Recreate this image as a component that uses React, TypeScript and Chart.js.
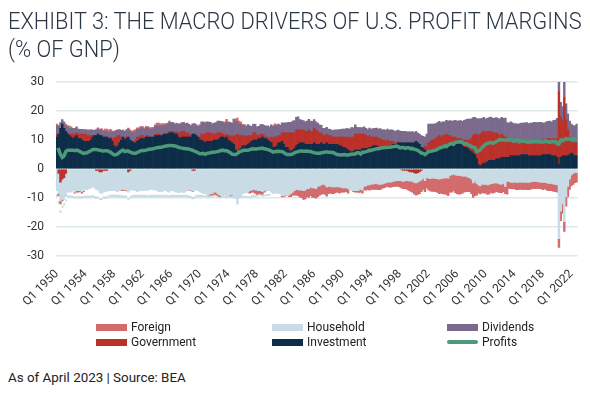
import React, { useEffect, useLayoutEffect, useRef, useState } from 'react';
import { Chart, registerables } from 'chart.js';

Chart.register(...registerables);

// Quarterly categories Q1 1950 .. Q4 2022
const firstYear = 1950;
const lastYear = 2022;
const quarters: string[] = [];
for (let y = firstYear; y <= lastYear; y++) for (let q = 1; q <= 4; q++) quarters.push(`Q${q} ${y}`);

const yTicks = [30, 20, 10, 0, -10, -20, -30];

// % of GNP (one row per year, Q1..Q4)
const investment = [
  11, 12, 14, 15.5, 14, 13, 12, 11.5, 11, 10.5, 11, 11.5, 10.5, 10.5, 10, 9.5,
  9.5, 9.5, 9.5, 10, 11, 11.5, 11.5, 12, 11.5, 11.5, 11, 11, 11, 10.5, 10.5, 9.5,
  8, 7.5, 8, 9, 10, 11, 10, 10.5, 11, 10, 9.5, 9, 9, 9.5, 10, 10.5,
  10.5, 10.5, 11, 11, 11, 11, 11, 11.5, 11.5, 11.5, 11.5, 11.5, 12, 12, 12, 12.5,
  12.5, 12.5, 12, 12, 11, 10.5, 11, 11, 11, 11, 11, 11, 12, 12, 11.5, 11,
  10, 10, 9.5, 9, 9.5, 9.5, 9.5, 9.5, 10, 10, 10, 10.5, 11, 11, 10.5, 11,
  10, 9.5, 9, 8.5, 6.5, 6, 6.5, 7, 8, 8, 8, 8.5, 9, 9.5, 10, 10,
  10, 10.5, 10.5, 11, 10.5, 10.5, 10, 9.5, 9, 7.5, 7.5, 8, 9, 9, 9.5, 8.5,
  7.5, 7.5, 6.5, 6, 6.5, 7, 8, 8.5, 9, 9, 9, 8.5, 8.5, 8.5, 8.5, 8.5,
  9, 8.5, 8.5, 8.5, 9, 8.5, 8.5, 9, 8.5, 8.5, 8.5, 8.5, 8.5, 8.5, 8, 8,
  7.5, 7.5, 7, 6.5, 6, 6, 6, 6.5, 6.5, 6.5, 6.5, 7, 7, 7, 7, 7.5,
  7.5, 8, 8, 8, 7.5, 7.5, 7.5, 7.5, 7.5, 8, 8, 8, 8.5, 8.5, 8.5, 9,
  9, 9, 9, 9, 9, 9, 9, 9, 9, 9.5, 9, 8.5, 7.5, 7, 6.5, 5.5,
  6, 6, 6, 6, 6, 6, 6.5, 6.5, 7, 7, 7.5, 7.5, 8, 8, 8, 8.5,
  8.5, 8.5, 8.5, 8, 7.5, 7.5, 7, 6.5, 6, 5.5, 5, 3.5, 1.5, 1, 1.5, 2,
  2, 2.5, 3, 3, 3, 3, 3.5, 3.5, 3.5, 4, 4, 4, 4, 4, 4.5, 4.5,
  4.5, 4.5, 4.5, 4.5, 5, 5, 5, 5, 4.5, 4.5, 4.5, 4.5, 4.5, 4.5, 4.5, 4.5,
  5, 5, 5, 5, 5, 4.5, 4.5, 4.5, 4, 1.5, 4, 4.5, 4.5, 4.5, 4.5, 5,
  5.5, 5, 4.5, 4.5,
];

const government = [
  1, -1.5, -4.5, -3.5, -3, -1.5, 0.5, 0.5, 1, 1.5, 1, 1, 1.5, 1.5, 2, 2.5,
  2.5, 2, 2, 1.5, 0.5, 0, -0.5, -0.5, -1, -1, -0.5, -0.5, -0.5, 0, 0.5, 1,
  2.5, 3.5, 3.5, 2.5, 1, 0, 0.5, 0.5, -1, -0.5, 0, 0.5, 1, 1.5, 1, 1,
  1, 0.5, 0.5, 0.5, 0, 0, 0, 0.3, 0.5, 0.5, 0.3, 0.3, 0, 0, 0.3, 0.5,
  0.3, 0.5, 0.5, 0.8, 1.5, 2, 2, 2, 1.5, 1.5, 1, 0.5, -0.5, -0.5, 0, 0,
  1, 2, 2.5, 3, 3, 3, 3, 2.5, 2, 2, 2.5, 2, 1.5, 1, 1, 1,
  1.5, 2, 2, 3, 5, 6, 5, 4.5, 3.5, 3.5, 3, 3, 2.5, 2, 2.5, 2.5,
  1.5, 1, 1.5, 1, 1, 0.5, 1, 1, 2, 3, 3.5, 3, 2.5, 2.5, 3, 4,
  5, 5, 6, 6.5, 6, 5.5, 5.5, 5, 4.5, 4.5, 4.5, 4.5, 4.5, 5, 4.5, 4.5,
  5, 5, 4.5, 4, 3.5, 3, 3, 3, 3, 3, 2.5, 2.5, 2.5, 2.5, 3, 3,
  3.5, 3.5, 4, 4.5, 4.5, 5, 5, 5.5, 5.5, 5.5, 5.5, 5, 5, 4.5, 4, 4,
  3.5, 3, 3, 3, 3, 3, 2.5, 2.5, 2, 2, 1.5, 1.5, 1, 0.5, 0.5, 0.3,
  0, -0.3, -0.5, -0.5, -0.5, -0.8, -1, -1, -1.3, -1.5, -1.3, -1, -0.5, 0.5, 1.5, 2,
  3, 3.5, 4, 4, 4.5, 5, 5, 4.5, 4.5, 4.5, 4.5, 4, 3.5, 3, 3, 2.5,
  2, 2, 2, 2, 2.5, 2.5, 3, 3.5, 4.5, 6, 7, 8.5, 10, 11, 11, 11,
  10.5, 10.5, 10, 10, 9.5, 9.5, 9, 8.5, 8, 8, 7.5, 7, 5.5, 5, 5, 4.5,
  4.5, 4.5, 4, 4, 4, 4, 4, 4, 4.5, 4.5, 4.5, 5, 4.5, 4.5, 4.5, 4.5,
  5, 5, 5.5, 5.5, 5.5, 5.5, 6, 6, 6.5, 25, 14, 12, 20, 12.5, 9, 6,
  4.5, 4, 4.5, 4.5,
];

const dividends = [
  3, 3, 2, 1.5, 2, 2, 2, 2, 2, 2, 2, 2, 1.8, 1.7, 1.7, 1.6,
  1.6, 1.7, 1.7, 1.8, 1.8, 1.8, 1.9, 1.9, 1.9, 1.9, 1.9, 2, 2, 2.1, 2.2, 2.2,
  2.2, 2.1, 2, 2.1, 2.3, 2.4, 2.5, 2.6, 2.8, 3, 3, 3, 2.8, 2.7, 2.7, 2.7,
  2.6, 2.7, 2.7, 2.8, 2.8, 2.8, 2.9, 2.9, 3, 3, 3, 3.1, 3.1, 3.2, 3.2, 3.2,
  3, 2.9, 2.9, 2.8, 2.8, 2.9, 2.8, 2.9, 3.2, 3.3, 3.4, 3.5, 3.6, 3.7, 3.8, 3.8,
  4, 4, 4, 4, 3.8, 3.7, 3.6, 3.6, 3.8, 4, 4, 4, 3.9, 4, 4.2, 4.3,
  4.5, 4.6, 4.8, 5.5, 5, 4.4, 4, 3.9, 3.6, 3.6, 3.8, 3.8, 3.4, 3.2, 3, 2.9,
  3, 3.2, 3.3, 3.4, 3.6, 3.8, 3.9, 4, 4.2, 4.3, 4.1, 4, 3.8, 3.6, 3.4, 3.3,
  3.4, 3.5, 3.6, 3.6, 4, 4.2, 4.3, 4.5, 3.5, 3.4, 3.2, 3.3, 3.5, 3.6, 3.5, 3.4,
  3, 2.8, 2.8, 2.7, 2.6, 2.5, 2.5, 2.4, 2.3, 2.2, 2.3, 2.4, 2.5, 2.5, 2.6, 2.7,
  2.8, 2.8, 2.9, 2.9, 3.3, 3.1, 3.2, 3.2, 2.4, 2.3, 2.3, 2.3, 2.5, 2.5, 2.6, 2.6,
  2.8, 2.9, 3, 3.1, 3.3, 3.4, 3.5, 3.6, 3.8, 3.8, 3.9, 4, 3.9, 4.1, 4.2, 4.1,
  4.1, 4, 4, 4, 3.8, 3.8, 3.8, 3.9, 3.6, 3.5, 3.4, 3.5, 4, 3.8, 3, 4.5,
  6.5, 6, 5.5, 5.5, 5.2, 5, 4.9, 5, 4.8, 4.8, 4.8, 5, 5.2, 5.5, 5.6, 5.8,
  6, 6.1, 6.2, 6.4, 6.8, 7, 7.2, 7.2, 6.8, 6.2, 5.8, 5.4, 5.8, 5.4, 5, 4.8,
  4.7, 4.6, 4.7, 4.9, 5, 5.1, 5.2, 5.4, 5.8, 5.8, 6, 6.6, 6.5, 6.8, 6.8, 6.9,
  6.6, 6.7, 6.9, 7.2, 6.8, 6.8, 6.9, 7, 6.7, 6.8, 6.8, 6.6, 7, 7, 7.1, 7.1,
  5.8, 5.9, 5.8, 5.9, 6, 6.2, 6.3, 6.4, 7, 6, 5, 5, 6, 5.5, 5.5, 5.5,
  5.5, 6, 6, 6.5,
];

const household = [
  -7.5, -7, -6.5, -7, -7.5, -8, -8, -8, -8, -7.5, -8, -7.5, -7.5, -7.5, -7.8, -7.5,
  -7, -7.2, -6.8, -6.5, -6.3, -6.5, -6.5, -6.8, -7.2, -7.5, -7.5, -7.3, -7.2, -7.5, -7.5, -7.5,
  -7.5, -7.6, -7.8, -7.5, -7.2, -7, -7, -7.3, -7, -6.8, -7.2, -7.3, -7.5, -7.8, -7.6, -7.5,
  -7.5, -7.5, -7.3, -7.4, -7, -7, -7.2, -7.2, -7.5, -7.8, -7.8, -7.8, -7.5, -7.5, -7.8, -8,
  -7.5, -7.5, -7.8, -8, -8.2, -8, -8, -8.2, -7.8, -7.5, -7.2, -7.3, -7, -7, -7.2, -7.5,
  -7.8, -8.2, -8.5, -8.5, -8.8, -9, -8.5, -8.5, -8, -8, -8.5, -9, -9, -9.2, -9, -9.5,
  -9, -9, -8.8, -9.5, -9.5, -11.5, -9.5, -9.2, -8.5, -8.3, -8, -7.8, -7.5, -7.3, -7, -7.2,
  -7.3, -7.5, -7.5, -7.8, -7.5, -7.3, -7.3, -7.5, -8, -8.5, -8.3, -8.3, -8.5, -8.5, -9.2, -9.3,
  -9, -9.2, -9, -8.5, -8, -7.5, -7, -7.2, -7.2, -7.3, -7.5, -7.3, -6.8, -6.8, -6.2, -6.5,
  -6.5, -6.8, -6, -5.8, -5.5, -5.2, -5.5, -6.2, -6, -6, -6.2, -6.2, -6.2, -6, -6.3, -6.3,
  -6.5, -6.5, -6.5, -6.8, -7.2, -7.3, -7.5, -7.5, -7.5, -7.3, -7, -7.3, -6, -5.8, -5.5, -5.5,
  -5.2, -5.2, -5, -5, -5.3, -5.3, -5.2, -5, -4.8, -4.5, -4.5, -4.5, -4.3, -4.2, -4, -4,
  -4, -3.8, -3.8, -3.5, -3.5, -3.3, -3.2, -3.2, -3.3, -3.3, -3.2, -3.2, -3.3, -3.2, -4, -3,
  -3.2, -3.3, -3.2, -3.2, -3.3, -3.3, -3.5, -3.3, -3.2, -3.2, -3, -3.2, -2.2, -2, -1.8, -2,
  -2.2, -2.2, -2.3, -2.5, -2.5, -2.5, -2.8, -3, -3.5, -4.8, -4.2, -5, -5.5, -5.8, -5.2, -5.3,
  -5.3, -5.5, -5.3, -5, -5, -4.8, -4.8, -5, -5.2, -5.2, -5, -6, -4.2, -4.4, -4.5, -4.6,
  -4.5, -4.6, -4.6, -4.5, -4.5, -4.6, -4.5, -4.6, -4.6, -4.5, -4.3, -4.3, -4.3, -4.4, -4.5, -4.5,
  -4.6, -4.6, -4.7, -5, -5, -5, -5.2, -5.3, -5.5, -24, -14.5, -12, -18.2, -9.5, -6, -3.5,
  -2, -1.5, -1.2, -1.2,
];

const foreign = [
  0.5, -0.8, -1, -0.5, 0.3, 0.5, 0.5, 0.8, 0.5, 0, -0.3, -0.5, -0.5, -0.3, -0.5, -0.3,
  0, 0.3, 0.3, 0.3, 0.2, 0, 0.2, 0.3, 0.3, 0.5, 0.5, 0.8, 0.8, 0.8, 0.5, 0.5,
  0.3, 0.2, 0, 0, -0.3, -0.5, -0.3, -0.3, 0.3, 0.5, 0.5, 0.8, 0.8, 0.5, 0.5, 0.5,
  0.5, 0.5, 0.5, 0.3, 0.5, 0.5, 0.5, 0.5, 0.8, 0.8, 0.8, 0.8, 0.5, 0.5, 0.3, 0.3,
  0.2, 0.2, 0.2, 0.2, 0.3, 0.3, 0.2, 0.2, 0, 0, -0.2, -0.2, -0.2, 0, 0, 0,
  0.3, 0.3, 0.3, 0, 0, -0.2, -0.5, -0.5, -0.8, -0.8, -0.6, -0.5, 0, 0.3, 0.5, 0.8,
  0.3, -0.3, -0.3, 0.2, 0.8, 1.2, 1, 0.8, 0.3, 0.2, 0, -0.2, -0.8, -0.8, -1, -1.2,
  -1.5, -1, -1, -1, -0.5, -0.3, 0, 0, 0, 0, 0.5, 0.3, 0.2, 0, -0.3, -0.3,
  -0.3, 0, -0.5, -1, -1, -1.5, -2, -2, -2.5, -2.5, -3, -3, -2.8, -3, -3, -3.3,
  -3.3, -3.3, -3.5, -3.3, -3.3, -3.3, -3.3, -3.2, -2.5, -2.3, -2.3, -2.3, -2, -2, -2, -1.8,
  -1.5, -1.5, -1.3, -1.5, 0, 0.3, -0.3, -0.5, -0.5, -0.8, -1, -1, -1.3, -1.5, -1.5, -1.8,
  -1.8, -1.8, -2, -2, -1.8, -1.8, -1.5, -1.5, -1.5, -1.5, -1.8, -1.8, -1.8, -1.8, -2, -2,
  -2.3, -2.5, -2.5, -2.8, -3, -3.3, -3.5, -3.8, -4, -4.2, -4.3, -4.3, -4, -3.8, -3.8, -3.5,
  -4, -4.3, -4.5, -4.5, -4.5, -4.8, -5, -5, -5.3, -5.5, -5.8, -6, -5.8, -6, -5.8, -6.2,
  -6.3, -6.5, -6.3, -5.8, -5.5, -5.3, -5, -4.8, -5, -5, -5, -4, -2.8, -2.8, -3, -3,
  -3, -3.3, -3.3, -3.1, -3.3, -3.3, -3, -3, -3, -3, -2.8, -2.5, -4.5, -2.3, -2.3, -2.3,
  -2.3, -2.5, -2.5, -2.5, -2.5, -2.5, -2.5, -2.5, -2.5, -2.5, -2.5, -2.5, -2.5, -2.3, -2.3, -2.3,
  -2.5, -2.3, -2.5, -2.5, -2.5, -2.5, -2.5, -2.5, -2.5, -3, -3.3, -3.3, -3.3, -3.3, -3.5, -3.5,
  -3.8, -3.8, -3.5, -3.3,
];

// white gap and pale strip seen under the household area in the early decades
const gap = [
  -1.2, -1.8, -2.2, -1.5, -1.2, -0.8, -1, -0.8, -1, -1.5, -1, -1.3, -1.2, -1.5, -1, -1.3,
  -2, -1.8, -2.2, -2.5, -2.5, -2.6, -2.4, -2, -1.6, -1.3, -1.3, -1.6, -1.6, -1.4, -1.3, -1.2,
  -1.2, -1.2, -1, -1.3, -1.4, -1.4, -1.6, -1.4, -1.8, -2, -1.7, -1.5, -1.3, -1, -1.2, -1.3,
  -1.3, -1.3, -1.5, -1.5, -1.8, -1.8, -1.6, -1.6, -1.3, -1, -1, -1, -1.3, -1.3, -1.1, -0.9,
  -1.3, -1.3, -1, -0.8, -0.6, -0.8, -0.8, -0.6, -1, -1.3, -1.6, -1.5, -1.8, -1.8, -1.6, -1.3,
  -1, -0.6, -0.4, -0.4, -0.2, 0, -0.2, -0.2, 0, 0, 0, 0, -0.2, 0, -0.2, 0,
  0, 0, 0, 0, 0, 0, 0, 0, -0.5, -0.8, -1.2, -1.3, -1, -0.8, -0.8, -0.5,
  0, 0, 0, 0, -0.8, -1, -1.2, -1, -0.5, 0, 0, 0,
];
const band = [
  -0.8, -0.7, -0.8, -0.8, -0.8, -0.7, -0.8, -0.8, -0.7, -0.8, -0.8, -0.7, -0.8, -0.8, -0.8, -0.7,
  -0.8, -0.8, -0.7, -0.8, -0.8, -0.8, -0.8, -0.7, -0.7, -0.8, -0.8, -0.8, -0.8, -0.7, -0.8, -0.8,
  -0.8, -0.8, -0.7, -0.8, -0.8, -0.8, -0.8, -0.8, -0.7, -0.8, -0.8, -0.8, -0.8, -0.7, -0.8, -0.8,
  -0.8, -0.8, -0.8, -0.7, -0.8, -0.8, -0.8, -0.8, -0.7, -0.8, -0.8, -0.8, -0.8, -0.8, -0.7, -0.8,
  -0.8, -0.8, -0.8, -0.7, -0.8, -0.8, -0.8, -0.8, -0.7, -0.8, -0.8, -0.8, -0.8, -0.7, -0.8, -0.8,
  -0.8, -0.7, -0.7, -0.7, -0.7, -0.6, -0.6, -0.6, -0.6, -0.6, -0.6, -0.6, -0.6, -0.6, -0.6, -0.6,
  -0.6, -0.6, -0.6, -0.6, -0.6, -0.6, -0.6, -0.6, -0.7, -0.7, -0.7, -0.7, -0.7, -0.7, -0.7, -0.7,
  -0.6, -0.6, -0.6, -0.6, -0.6, -0.6, -0.6, -0.6,
];

const profits = [
  6.5, 6.7, 5, 4, 4.5, 6, 6.5, 6.5, 6.5, 6.5, 6.3, 6.5, 6.3, 6, 5.6, 5.4,
  5.5, 5.6, 6, 6.3, 6.7, 6.7, 6.7, 6.6, 6.5, 6.3, 6.2, 6.3, 6.3, 6.1, 5.8, 5.3,
  4.9, 4.9, 5.2, 5.7, 6.2, 6.5, 6, 6.2, 6.2, 5.8, 5.6, 5.4, 5.4, 5.7, 6, 6.3,
  6.4, 6.4, 6.5, 6.7, 6.8, 6.9, 7, 7.2, 7.3, 7.4, 7.5, 7.6, 7.8, 7.9, 8, 8.1,
  8.1, 8, 7.9, 7.8, 7.5, 7.3, 7.2, 7.1, 7, 7, 6.8, 6.7, 6.4, 6.2, 5.9, 5.6,
  5.3, 5.3, 5.4, 5.1, 5.4, 5.5, 5.6, 5.8, 5.8, 5.9, 6, 6.2, 6.4, 6.5, 6.3, 6.3,
  6, 5.6, 5.1, 5, 5, 5.3, 5.9, 6.1, 6.4, 6.5, 6.5, 6.5, 6.7, 6.9, 7, 6.9,
  6.9, 7.1, 7.1, 7.2, 7, 6.9, 6.7, 6.5, 6.2, 5.8, 6, 6, 6.1, 6, 6, 5.7,
  5.2, 5, 5, 5, 5.2, 5.6, 5.8, 6, 6.2, 6.2, 6.1, 6.1, 6.2, 6, 6, 5.8,
  5.6, 5.5, 5.4, 5.4, 5.6, 5.7, 5.9, 5.9, 5.8, 5.8, 5.7, 5.6, 5.2, 5, 4.9, 4.8,
  4.9, 5, 4.8, 4.8, 5, 5.1, 5.2, 5.2, 5.6, 5.6, 5.2, 5.8, 5.8, 6, 6.1, 6.5,
  6.4, 6.7, 6.8, 7, 7, 7.1, 7.3, 7.3, 7.4, 7.5, 7.5, 7.6, 7.7, 7.8, 7.9, 7.7,
  7.3, 7.4, 7.4, 7.1, 7.3, 7.3, 7, 7.1, 6.8, 6.7, 6.4, 6, 5.5, 5.4, 5, 5.5,
  6, 6.1, 6.2, 6.4, 6.5, 6.8, 7.2, 7.5, 7.6, 8, 7.7, 8.3, 8.6, 8.8, 8.5, 9.2,
  9.3, 9.4, 9.4, 9.2, 8.6, 8.8, 8.4, 8.2, 7.8, 7.5, 7.4, 6, 6.3, 6.6, 7.4, 8,
  8.6, 8.8, 9, 9.2, 8.8, 9.2, 9.5, 9.8, 10.2, 10, 10, 10, 9.9, 10.1, 10, 9.9,
  9.5, 9.9, 10.1, 9.8, 9.6, 9.7, 9.6, 9.3, 9.2, 9.3, 9.4, 9.4, 9.4, 9.4, 9.4, 9.2,
  9.3, 9.5, 9.6, 9.4, 9.2, 9.5, 9.4, 9.5, 8.7, 8.6, 10, 9.8, 10, 10.5, 10.2, 10.4,
  10, 10.3, 10.2, 10,
];

const COLORS = {
  foreign: '#d36b6d',
  government: '#bb3129',
  household: '#c9dce5',
  investment: '#0e2d48',
  dividends: '#7b6a8c',
  profits: '#4b9a79',
};

const legendItems = [
  { label: 'Foreign', color: COLORS.foreign, x: 96, y: 327, line: false },
  { label: 'Government', color: COLORS.government, x: 96, y: 342, line: false },
  { label: 'Household', color: COLORS.household, x: 272, y: 327, line: false },
  { label: 'Investment', color: COLORS.investment, x: 272, y: 342, line: false },
  { label: 'Dividends', color: COLORS.dividends, x: 447, y: 327, line: false },
  { label: 'Profits', color: COLORS.profits, x: 447, y: 342, line: true },
];

export default function App() {
  const canvasRef = useRef<HTMLCanvasElement>(null);
  const titleRef = useRef<HTMLSpanElement>(null);
  const footRef = useRef<HTMLSpanElement>(null);
  const [titleScale, setTitleScale] = useState(1);
  const [footScale, setFootScale] = useState(1);

  useLayoutEffect(() => {
    if (titleRef.current) setTitleScale(574 / titleRef.current.scrollWidth);
    if (footRef.current) setFootScale(178 / footRef.current.scrollWidth);
  }, []);

  useEffect(() => {
    if (!canvasRef.current) return;
    const pad = (a: number[]) => quarters.map((_, i) => (i < a.length ? a[i] : 0));
    const nz = (a: number[]) => pad(a).map((v) => (v === 0 ? null : v));
    const pos = (a: number[]) => pad(a).map((v) => (v > 0 ? v : null));
    const neg = (a: number[]) => pad(a).map((v) => (v < 0 ? v : null));
    const bar = (label: string, data: (number | null)[], color: string) => ({
      type: 'bar' as const,
      label,
      data,
      backgroundColor: color,
      borderWidth: 0,
      barPercentage: 1,
      categoryPercentage: 1,
      order: 1,
    });
    const chart = new Chart(canvasRef.current, {
      data: {
        labels: quarters,
        datasets: [
          {
            type: 'line',
            label: 'Profits',
            data: profits,
            borderColor: COLORS.profits,
            borderWidth: 3.5,
            pointRadius: 0,
            tension: 0,
            order: 0,
          } as any,
          bar('Government (surplus)', neg(government), COLORS.government),
          bar('Investment', nz(investment), COLORS.investment),
          bar('Government', pos(government), COLORS.government),
          bar('Dividends', nz(dividends), COLORS.dividends),
          bar('Foreign (surplus)', pos(foreign), COLORS.foreign),
          bar('Household', nz(household), COLORS.household),
          bar('Foreign', neg(foreign), COLORS.foreign),
          bar('gap', nz(gap), '#ffffff'),
          bar('band', nz(band), COLORS.household),
        ],
      },
      options: {
        animation: false,
        responsive: false,
        events: [],
        layout: { padding: { top: 82, right: 5, left: 0, bottom: 0 } },
        plugins: { legend: { display: false }, tooltip: { enabled: false }, title: { display: false } },
        scales: {
          x: {
            stacked: true,
            grid: { display: false },
            border: { display: false },
            ticks: {
              autoSkip: false,
              maxRotation: 45,
              minRotation: 45,
              padding: 3,
              color: '#333333',
              font: { family: 'Roboto', size: 12 },
              callback: (_v: any, i: number) => (i % 16 === 0 ? quarters[i] : ''),
            },
            afterFit: (s: any) => {
              s.height = 64;
            },
          },
          y: {
            stacked: true,
            min: yTicks[yTicks.length - 1],
            max: yTicks[0],
            border: { display: false },
            grid: { color: '#dde9e9', lineWidth: 1.5, drawTicks: false },
            ticks: {
              stepSize: 10,
              padding: 12,
              color: '#333333',
              font: { family: 'Roboto', size: 12 },
            },
            afterFit: (s: any) => {
              s.width = 56;
            },
          },
        },
      } as any,
    });
    return () => chart.destroy();
  }, []);

  return (
    <div style={{ position: 'absolute', left: 0, top: 0, width: 590, height: 394, background: '#fff', overflow: 'hidden', fontFamily: 'Roboto' }}>
      <canvas ref={canvasRef} width={590} height={320} style={{ position: 'absolute', left: 0, top: 0, width: 590, height: 320 }} />
      <div style={{ position: 'absolute', left: 8, top: 7, color: '#2b3744', fontWeight: 300, fontSize: 24, lineHeight: '28px', whiteSpace: 'nowrap', transform: `scaleX(${titleScale})`, transformOrigin: 'left top' }}>
        <span ref={titleRef} style={{ display: 'inline-block' }}>EXHIBIT 3: THE MACRO DRIVERS OF U.S. PROFIT MARGINS</span>
        <br />
        <span>(% OF GNP)</span>
      </div>
      {legendItems.map((it) => (
        <div key={it.label} style={{ position: 'absolute', left: it.x, top: it.y - 8, height: 16, display: 'flex', alignItems: 'center', whiteSpace: 'nowrap' }}>
          <div style={{ width: 31, height: it.line ? 3.5 : 7, background: it.color, marginRight: 4, borderRadius: it.line ? 2 : 0 }} />
          <span style={{ fontSize: 12, color: '#222', fontFamily: 'Roboto' }}>{it.label}</span>
        </div>
      ))}
      <div style={{ position: 'absolute', left: 8, top: 367, whiteSpace: 'nowrap', transform: `scaleX(${footScale})`, transformOrigin: 'left top' }}>
        <span ref={footRef} style={{ display: 'inline-block', fontSize: 13, color: '#222', fontFamily: 'Roboto' }}>As of April 2023 | Source: BEA</span>
      </div>
    </div>
  );
}
